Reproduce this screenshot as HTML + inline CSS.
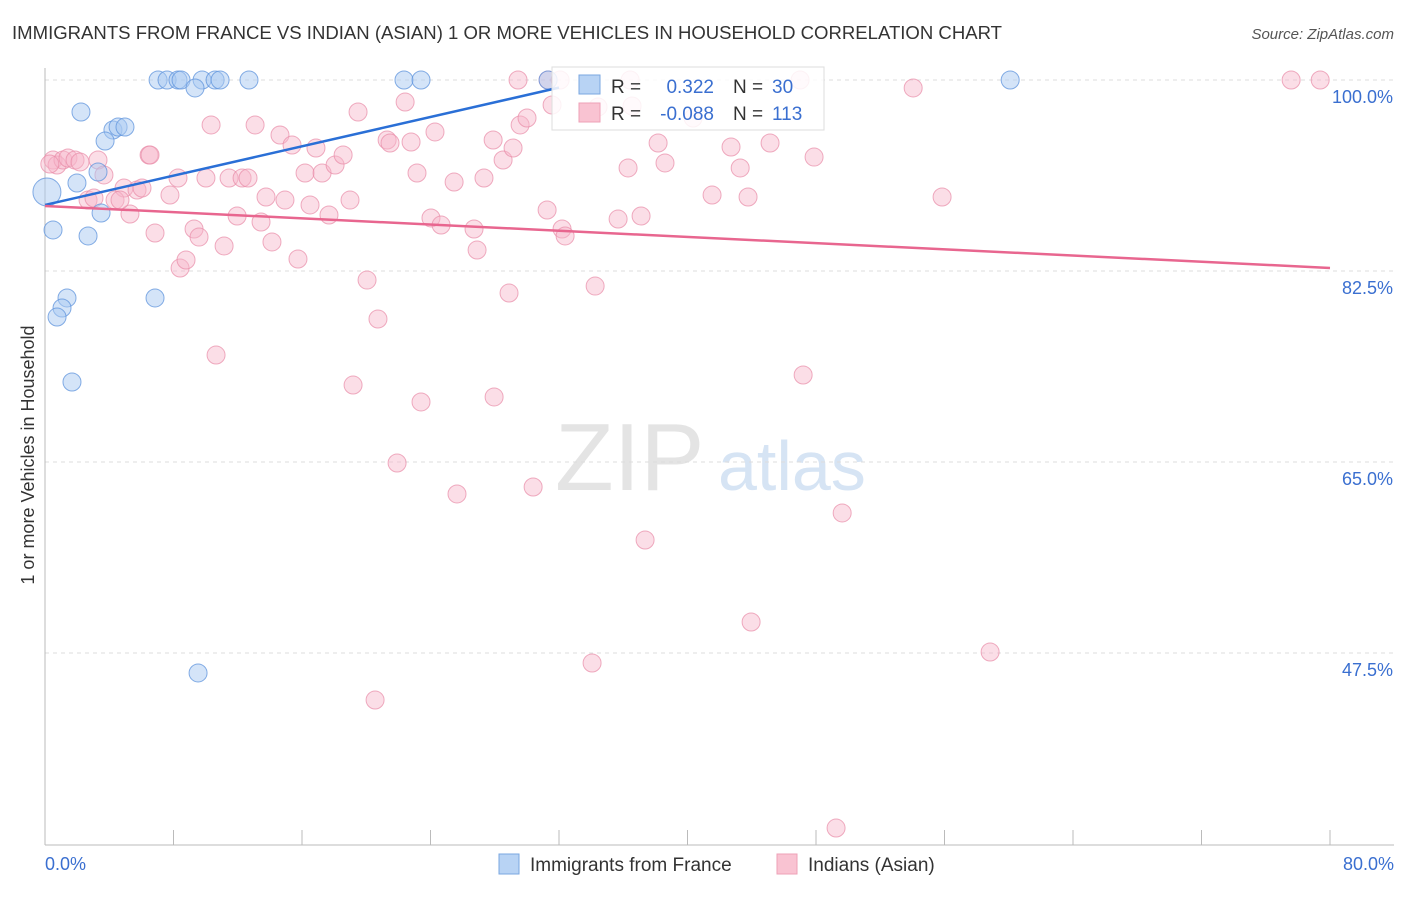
<!DOCTYPE html>
<html><head><meta charset="utf-8"><style>
body{margin:0;background:#fff;font-family:"Liberation Sans",sans-serif}
svg text{font-family:"Liberation Sans",sans-serif}
</style></head><body>
<svg id="chart" width="1406" height="892" viewBox="0 0 1406 892" xmlns="http://www.w3.org/2000/svg">
<text x="12" y="39" font-size="18" fill="#333" textLength="990" lengthAdjust="spacingAndGlyphs">IMMIGRANTS FROM FRANCE VS INDIAN (ASIAN) 1 OR MORE VEHICLES IN HOUSEHOLD CORRELATION CHART</text>
<text x="1394" y="39" font-size="15" fill="#555" text-anchor="end" font-style="italic">Source: ZipAtlas.com</text>
<text transform="translate(34,455) rotate(-90)" font-size="18" fill="#333" text-anchor="middle">1 or more Vehicles in Household</text>
<g><text x="555" y="490" font-size="96" fill="#e4e4e4" font-family="Liberation Serif">ZIP</text><text x="718" y="490" font-size="70" fill="#d6e4f4">atlas</text></g>
<g id="grid"></g><g id="axes"></g><g id="pts"></g><g id="lines"></g>
<g>
<rect x="552" y="67" width="272" height="63" fill="#fff" fill-opacity="0.85" stroke="#ddd"/>
<rect x="579" y="75" width="21" height="19" fill="#b8d3f4" stroke="#7aa7e0"/>
<rect x="579" y="103" width="21" height="19" fill="#f9c3d2" stroke="#eea0b7"/>
<text x="611" y="93" font-size="19" fill="#333">R =</text><text x="714" y="93" font-size="19" fill="#3a6fd0" text-anchor="end">0.322</text>
<text x="733" y="93" font-size="19" fill="#333">N =</text><text x="772" y="93" font-size="19" fill="#3a6fd0">30</text>
<text x="611" y="120" font-size="19" fill="#333">R =</text><text x="714" y="120" font-size="19" fill="#3a6fd0" text-anchor="end">-0.088</text>
<text x="733" y="120" font-size="19" fill="#333">N =</text><text x="772" y="120" font-size="19" fill="#3a6fd0">113</text>
</g>
<g>
<rect x="499" y="854" width="20" height="20" fill="#b8d3f4" stroke="#7aa7e0"/>
<text x="530" y="871" font-size="19" fill="#333">Immigrants from France</text>
<rect x="777" y="854" width="20" height="20" fill="#f9c3d2" stroke="#eea0b7"/>
<text x="808" y="871" font-size="19" fill="#333">Indians (Asian)</text>
</g>
</svg>
<script>
const yTicks=[100,82.5,65,47.5];
const yTickLabels=["100.0%","82.5%","65.0%","47.5%"];
const xTickLabels=["0.0%","80.0%"];
const franceX=[7.04,7.6,8.28,8.47,9.78,10.59,10.9,12.7,22.35,23.41,31.32,60.09,9.34,2.24,4.23,4.55,4.98,3.74,3.3,1.99,0.12,3.49,0.5,2.68,1.37,1.06,0.75,6.85,1.68,9.53];
const franceY=[100,100,100,100,100,100,100,100,100,100,100,100,99.27,97.07,95.42,95.69,95.69,94.41,91.57,90.56,89.74,87.81,86.26,85.71,80.03,79.11,78.28,80.03,72.33,45.67];
const indianX=[0.5,0.75,1.12,1.43,1.87,2.18,3.3,6.48,8.28,3.67,4.92,5.73,6.04,5.29,2.68,4.36,3.05,4.67,6.54,6.85,7.78,8.41,8.78,9.28,9.59,10.02,10.34,10.65,11.15,11.46,11.96,12.27,12.64,13.08,13.45,13.76,14.13,14.63,14.94,15.38,15.75,16.19,16.5,16.87,17.25,17.68,18.06,18.56,18.99,19.18,19.49,20.05,20.55,20.73,21.3,21.48,21.92,22.42,22.79,23.16,23.41,24.03,24.28,24.66,25.47,25.65,26.71,26.9,27.33,27.9,27.96,28.52,28.89,29.14,29.58,30.01,30.39,31.26,31.32,31.57,32.19,32.38,34.06,34.25,34.43,35.68,36.3,36.55,37.11,37.36,38.17,38.6,40.35,41.53,42.71,43.28,43.77,43.96,45.14,47.2,47.88,47.01,49.25,49.63,54.05,55.85,58.84,77.58,79.39,36.43,32.07,29.45,0.3];
const indianY=[92.67,92.21,92.67,92.85,92.67,92.49,92.67,93.13,91.02,91.3,90.1,89.92,90.1,87.72,89.0,89.0,89.19,89.0,93.13,85.98,89.46,82.77,83.51,86.35,85.61,91.02,95.88,74.8,84.79,91.02,87.54,91.02,91.02,95.88,86.99,89.28,85.16,94.96,89.0,94.04,83.6,91.48,88.55,93.77,91.48,87.63,92.21,93.13,89.0,72.05,97.07,81.67,43.19,78.1,94.5,94.23,64.91,97.98,94.32,91.48,70.5,87.36,95.24,86.71,90.65,62.07,86.35,84.42,91.02,94.5,70.96,92.67,80.48,93.77,95.88,96.52,62.71,88.09,100,97.71,86.35,85.71,46.58,81.12,97.53,87.26,91.94,97.62,87.54,57.85,94.23,92.4,96.52,89.46,93.86,91.94,89.28,50.34,94.23,72.97,92.94,100,31.46,60.33,99.27,89.28,47.59,100,100,100,100,100,92.3];
const franceFit={x0:0,y0:88.55,x1:32,y1:99.3};
const indianFit={x0:0,y0:88.46,x1:80,y1:82.78};
const X=v=>45+v*16.0625, Y=v=>80+(100-v)*10.914;
const NS="http://www.w3.org/2000/svg";
function mk(p,t,a){const e=document.createElementNS(NS,t);for(const k in a)e.setAttribute(k,a[k]);document.getElementById(p).appendChild(e);return e;}
yTicks.forEach((t,i)=>{
 const g=mk('grid','line',{x1:45,x2:1394,y1:Y(t),y2:Y(t),stroke:'#ddd','stroke-dasharray':'4,4'});
 
 
 const l=mk('axes','text',{x:1393,y:Y(t)+23,'font-size':18,fill:'#3a6fd0','text-anchor':'end'});
 l.textContent=yTickLabels[i];
 
 
});
const ax=mk('axes','line',{x1:45,x2:45,y1:68,y2:845,stroke:'#bbb'});


const bx=mk('axes','line',{x1:45,x2:1394,y1:845,y2:845,stroke:'#bbb'});


for(let i=0;i<=10;i++){const t=mk('axes','line',{x1:X(i*8),x2:X(i*8),y1:830,y2:845,stroke:'#bbb'});
 
 }
[0,80].forEach((v,i)=>{const l=mk('axes','text',{x:i?1394:45,y:870,'font-size':18,fill:'#3a6fd0','text-anchor':i?'end':'start'});
 l.textContent=xTickLabels[i];
 
 });
indianX.forEach((v,i)=>{const c=mk('pts','circle',{cx:X(v),cy:Y(indianY[i]),r:9,fill:'#f7b6c9','fill-opacity':0.45,stroke:'#e88aa6','stroke-opacity':0.7});
 
 });
franceX.forEach((v,i)=>{const c=mk('pts','circle',{cx:X(v),cy:Y(franceY[i]),r:i==20?14:9,fill:'#a9c9f1','fill-opacity':0.5,stroke:'#5d93dc','stroke-opacity':0.75});
 
 });
const lb=mk('lines','line',{x1:X(franceFit.x0),y1:Y(franceFit.y0),x2:X(franceFit.x1),y2:Y(franceFit.y1),stroke:'#2a6fd6','stroke-width':2.5});


const lp=mk('lines','line',{x1:X(indianFit.x0),y1:Y(indianFit.y0),x2:X(indianFit.x1),y2:Y(indianFit.y1),stroke:'#e8668f','stroke-width':2.5});


</script>
</body></html>
